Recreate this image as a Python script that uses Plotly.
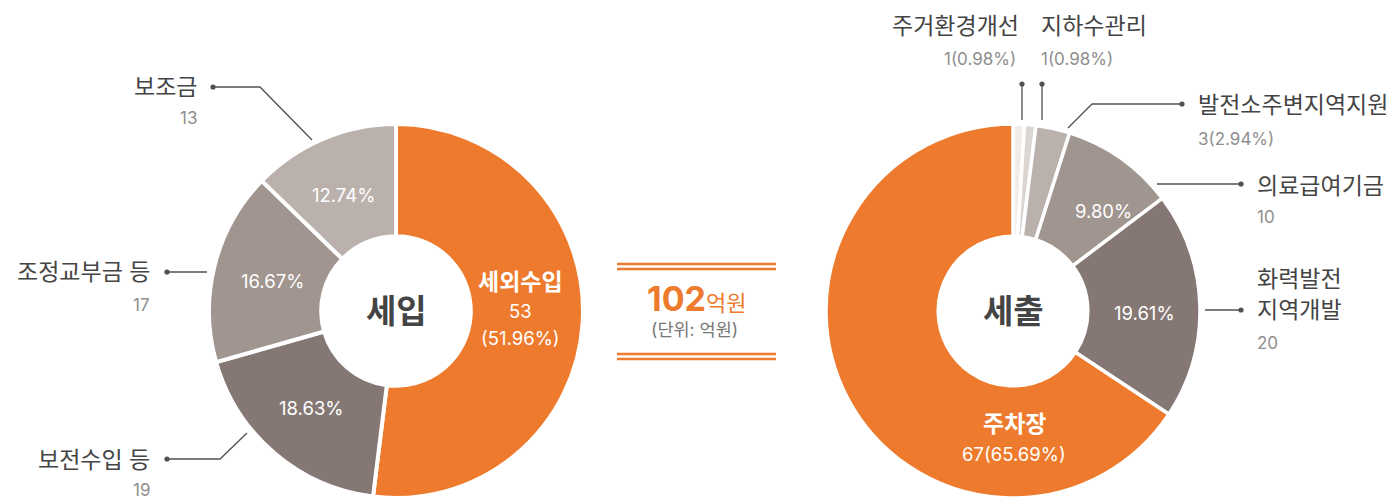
import plotly.graph_objects as go

W, H = 1396, 500
FONT = "Inter, Noto Sans CJK KR"

# ---------------- data ----------------
rev_labels = ["세외수입", "보전수입 등", "조정교부금 등", "보조금"]
rev_values = [53, 19, 17, 13]
rev_pcts = ["51.96%", "18.63%", "16.67%", "12.74%"]
rev_colors = ["#EE7B2D", "#857874", "#A0958F", "#BBB1AC"]

exp_labels = ["주거환경개선", "지하수관리", "발전소주변지역지원", "의료급여기금", "화력발전 지역개발", "주차장"]
exp_values = [1, 1, 3, 10, 20, 67]
exp_pcts = ["0.98%", "0.98%", "2.94%", "9.80%", "19.61%", "65.69%"]
exp_colors = ["#EFECE9", "#DCD6D2", "#BBB1AC", "#A0958F", "#857874", "#EE7B2D"]

unit = "억원"
total = sum(rev_values)

ORANGE = "#EE7B2D"
DARK = "#444444"
GREY = "#8E8E8E"
LINE = "#505050"

LBL = 23   # outside label size
NUM = 17   # numbers
PCT = 18.5


def px(x):
    return x / W


def py(y):
    return 1 - y / H


fig = go.Figure()

fig.add_trace(go.Pie(
    labels=rev_labels, values=rev_values, sort=False, direction="clockwise",
    rotation=0, hole=0.40, textinfo="none", hoverinfo="none",
    marker=dict(colors=rev_colors, line=dict(color="white", width=4)),
    domain=dict(x=[px(209), px(583)], y=[py(498), py(124)]),
))
fig.add_trace(go.Pie(
    labels=exp_labels, values=exp_values, sort=False, direction="clockwise",
    rotation=0, hole=0.40, textinfo="none", hoverinfo="none",
    marker=dict(colors=exp_colors, line=dict(color="white", width=3.5)),
    domain=dict(x=[px(826), px(1200)], y=[py(498), py(124)]),
))

ann = []


def text(x, y, t, size, color, anchor="center", bold=False):
    ann.append(dict(
        x=px(x), y=py(y), xref="paper", yref="paper", showarrow=False,
        text=f"<b>{t}</b>" if bold else t, xanchor=anchor, yanchor="middle",
        font=dict(family=FONT, size=size, color=color),
    ))


# centre titles
text(396, 311, "세입", 33, DARK, bold=True)
text(1013, 311, "세출", 33, DARK, bold=True)

# inside labels - left
text(520, 282, rev_labels[0], 23, "white", bold=True)
text(520, 311, str(rev_values[0]), PCT, "white")
text(520, 338, f"({rev_pcts[0]})", PCT, "white")
text(311, 408, rev_pcts[1], PCT, "white")
text(272, 281, rev_pcts[2], PCT, "white")
text(343, 195, rev_pcts[3], PCT, "white")

# inside labels - right
text(1103, 211, exp_pcts[3], PCT, "white")
text(1144, 313, exp_pcts[4], PCT, "white")
text(1014, 424, exp_labels[5], 23, "white", bold=True)
text(1014, 454, f"{exp_values[5]}({exp_pcts[5]})", PCT, "white")

# outside labels - left
text(199, 87, rev_labels[3], LBL, DARK, "right")
text(199, 118, str(rev_values[3]), NUM, GREY, "right")
text(152, 272, rev_labels[2], LBL, DARK, "right")
text(152, 305, str(rev_values[2]), NUM, GREY, "right")
text(152, 460, rev_labels[1], LBL, DARK, "right")
text(152, 490, str(rev_values[1]), NUM, GREY, "right")

# outside labels - right
text(1021, 26, exp_labels[0], LBL, DARK, "right")
text(1018, 59, f"{exp_values[0]}({exp_pcts[0]})", NUM, GREY, "right")
text(1039, 26, exp_labels[1], LBL, DARK, "left")
text(1039, 59, f"{exp_values[1]}({exp_pcts[1]})", NUM, GREY, "left")
text(1196, 105, exp_labels[2], LBL, DARK, "left")
text(1196, 139, f"{exp_values[2]}({exp_pcts[2]})", NUM, GREY, "left")
text(1255, 186, exp_labels[3], LBL, DARK, "left")
text(1255, 217, str(exp_values[3]), NUM, GREY, "left")
l1, l2 = exp_labels[4].split(" ")
text(1255, 279, l1, LBL, DARK, "left")
text(1255, 310, l2, LBL, DARK, "left")
text(1255, 343, str(exp_values[4]), NUM, GREY, "left")

# middle total block
ann.append(dict(x=px(697), y=py(298), xref="paper", yref="paper", showarrow=False,
                text=f"<b>{total}</b><span style='font-size:22px'>{unit}</span>",
                xanchor="center", yanchor="middle",
                font=dict(family=FONT, size=34, color=ORANGE)))
text(694, 329, f"(단위: {unit})", 17.5, "#777777")

shapes = []


def path(points, color=LINE, width=1.3):
    d = "M " + " L ".join(f"{px(x)} {py(y)}" for x, y in points)
    shapes.append(dict(type="path", path=d, xref="paper", yref="paper",
                       line=dict(color=color, width=width)))


def dot(x, y, r=2.6):
    shapes.append(dict(type="circle", xref="paper", yref="paper",
                       x0=px(x - r), x1=px(x + r), y0=py(y + r), y1=py(y - r),
                       fillcolor=LINE, line=dict(width=0)))


# leaders left
path([(213, 87), (260, 87), (312, 140)]); dot(213, 87)
path([(167, 272), (207, 272)]); dot(167, 272)
path([(167, 459), (220, 459), (247, 433)]); dot(167, 459)
# leaders right
path([(1022, 84), (1022, 120)]); dot(1022, 84)
path([(1042, 84), (1042, 120)]); dot(1042, 84)
path([(1068, 128), (1092, 104), (1182, 104)]); dot(1182, 104)
path([(1157, 184), (1241, 184)]); dot(1241, 184)
path([(1205, 310), (1241, 310)]); dot(1241, 310)

# orange double rules
for y in (264, 269, 354, 359):
    path([(617, y), (776, y)], color=ORANGE, width=2.5)

fig.update_layout(
    width=W, height=H, margin=dict(l=0, r=0, t=0, b=0),
    paper_bgcolor="white", plot_bgcolor="white", showlegend=False,
    annotations=ann, shapes=shapes,
    font=dict(family=FONT),
)

fig.write_html("out.html", config={"displayModeBar": False, "staticPlot": True},
               post_script="document.body.style.margin='0';document.body.style.overflow='hidden';")
